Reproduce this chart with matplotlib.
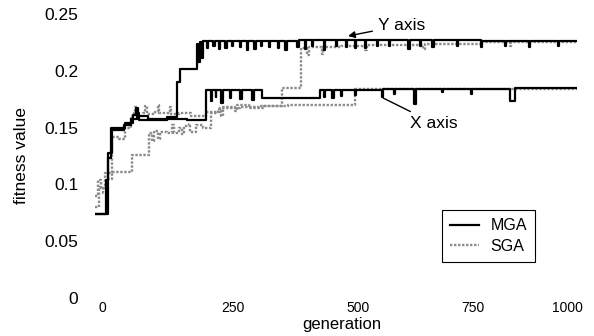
import matplotlib
matplotlib.use("Agg")
import matplotlib.pyplot as plt

plt.rcParams['font.family'] = ['Liberation Sans', 'DejaVu Sans']

# MGA, curve that ends on the Y axis level
mga_y_gen = [0, 26, 34, 62, 78, 86, 89, 110, 150, 170, 176, 211, 214, 217, 221, 224,
             232, 234, 245, 248, 258, 260, 270, 273, 285, 287, 300, 303, 315, 317,
             330, 333, 345, 347, 360, 364, 380, 382, 395, 398, 420, 423, 436, 438,
             450, 453, 475, 478, 500, 502, 520, 523, 540, 542, 560, 563, 585, 587,
             610, 613, 650, 654, 675, 677, 700, 703, 750, 753, 800, 803, 850, 853,
             900, 903, 960, 963, 1000]
mga_y_val = [0.074, 0.123, 0.150, 0.154, 0.161, 0.167, 0.160, 0.158, 0.159, 0.190, 0.202,
             0.224, 0.208, 0.225, 0.211, 0.226,
             0.220, 0.226, 0.222, 0.226, 0.219, 0.226, 0.220, 0.226, 0.222, 0.226,
             0.221, 0.226, 0.218, 0.226, 0.219, 0.226, 0.222, 0.226, 0.221, 0.226,
             0.220, 0.226, 0.218, 0.226, 0.221, 0.227, 0.219, 0.227, 0.222, 0.227,
             0.218, 0.227, 0.222, 0.227, 0.221, 0.227, 0.220, 0.227, 0.220, 0.227,
             0.222, 0.227, 0.222, 0.227, 0.219, 0.227, 0.222, 0.227, 0.221, 0.227,
             0.222, 0.227, 0.221, 0.226, 0.222, 0.226, 0.221, 0.226, 0.222, 0.226,
             0.226]

# MGA, curve that ends on the X axis level
mga_x_gen = [0, 22, 28, 36, 60, 75, 88, 92, 150, 190, 230, 240, 243, 250, 252, 262,
             266, 280, 283, 300, 304, 325, 329, 347, 467, 475, 478, 492, 496, 510,
             513, 540, 542, 595, 598, 620, 622, 662, 667, 720, 723, 780, 782, 860,
             872, 1000]
mga_x_val = [0.074, 0.104, 0.128, 0.148, 0.152, 0.158, 0.163, 0.157, 0.158, 0.157,
             0.183, 0.173, 0.183, 0.177, 0.183, 0.172, 0.183, 0.176, 0.183, 0.175,
             0.183, 0.174, 0.183, 0.176, 0.183, 0.177, 0.183, 0.176, 0.183, 0.178,
             0.183, 0.179, 0.183, 0.177, 0.184, 0.180, 0.184, 0.171, 0.184, 0.181,
             0.184, 0.180, 0.184, 0.173, 0.185, 0.185]

# SGA, Y axis
sga_y_gen = [0, 6, 12, 20, 35, 50, 62, 75, 80, 84, 87, 100, 104, 107, 125, 130, 133,
             150, 155, 158, 175, 200, 230, 260, 300, 340, 388, 428, 440, 444, 470,
             474, 510, 560, 564, 620, 680, 684, 740, 800, 860, 864, 1000]
sga_y_val = [0.090, 0.104, 0.097, 0.110, 0.142, 0.140, 0.150, 0.160, 0.163, 0.168,
             0.160, 0.163, 0.169, 0.162, 0.164, 0.170, 0.163, 0.163, 0.168, 0.162,
             0.163, 0.160, 0.164, 0.167, 0.168, 0.169, 0.185, 0.220, 0.214, 0.221,
             0.215, 0.221, 0.222, 0.218, 0.223, 0.223, 0.219, 0.224, 0.224, 0.225,
             0.222, 0.225, 0.225]

# SGA, X axis
sga_x_gen = [0, 8, 16, 24, 35, 77, 112, 118, 122, 130, 134, 150, 160, 163, 175, 180,
             185, 195, 198, 205, 210, 225, 240, 255, 262, 266, 290, 294, 320, 350,
             400, 540, 700, 1000]
sga_x_val = [0.080, 0.098, 0.092, 0.105, 0.111, 0.126, 0.145, 0.138, 0.147, 0.140,
             0.146, 0.145, 0.152, 0.145, 0.150, 0.144, 0.151, 0.153, 0.146, 0.146,
             0.152, 0.150, 0.163, 0.166, 0.160, 0.168, 0.165, 0.170, 0.167, 0.169,
             0.170, 0.184, 0.184, 0.184]

x_tick_pos = [14.5, 286, 546, 784, 981]
x_tick_lab = ['0', '250', '500', '750', '1000']
y_ticks = [0, 0.05, 0.1, 0.15, 0.2, 0.25]
y_tick_lab = ['0', '0.05', '0.1', '0.15', '0.2', '0.25']

fig = plt.figure(figsize=(5.94, 3.36), dpi=100)
ax = fig.add_axes([95 / 594, 38 / 336, 482 / 594, 284 / 336])

sga_style = dict(color='#8a8a8a', linestyle=(0, (1, 0.7)), linewidth=1.7, drawstyle='steps-post')
mga_style = dict(color='black', linewidth=1.6, drawstyle='steps-post')

ax.plot(sga_y_gen, sga_y_val, **sga_style)
ax.plot(sga_x_gen, sga_x_val, label='SGA', **sga_style)
ax.plot(mga_y_gen, mga_y_val, **mga_style)
ax.plot(mga_x_gen, mga_x_val, label='MGA', **mga_style)

ax.set_xlim(0, 1000)
ax.set_ylim(0, 0.25)
for s in ax.spines.values():
    s.set_visible(False)

ax.set_xticks(x_tick_pos)
ax.set_xticklabels(x_tick_lab, fontsize=10)
ax.set_yticks(y_ticks)
ax.set_yticklabels(y_tick_lab, fontsize=12.5)
ax.tick_params(axis='x', length=0, pad=2)
ax.tick_params(axis='y', length=0, pad=12)

ax.set_xlabel('generation', fontsize=12)
ax.xaxis.set_label_coords((342 - 95) / 482, (298 - 324) / 284)
ax.xaxis.label.set_va('center')
ax.set_ylabel('fitness value', fontsize=12.5)
ax.yaxis.set_label_coords((22 - 95) / 482, (298 - 156) / 284)
ax.yaxis.label.set_va('center')

ax.annotate('Y axis', xy=(525, 0.2306), xytext=(587, 0.240), fontsize=12.5,
            ha='left', va='center',
            arrowprops=dict(arrowstyle='-|>', color='black', lw=1, mutation_scale=10,
                            shrinkA=2, shrinkB=0))
ax.annotate('X axis', xy=(598, 0.176), xytext=(653, 0.154), fontsize=12.5,
            ha='left', va='center',
            arrowprops=dict(arrowstyle='-', color='black', lw=1, shrinkA=2, shrinkB=0))

h, l = ax.get_legend_handles_labels()
leg = ax.legend(h[::-1], l[::-1], loc='lower left', bbox_to_anchor=(0.72, 0.127),
                fontsize=11.5, frameon=True, fancybox=False, framealpha=1,
                edgecolor='black', handlelength=1.8, handletextpad=0.75,
                borderpad=0.5, labelspacing=0.35, borderaxespad=0)
leg.get_frame().set_linewidth(0.8)

fig.savefig('out.png', dpi=100)
